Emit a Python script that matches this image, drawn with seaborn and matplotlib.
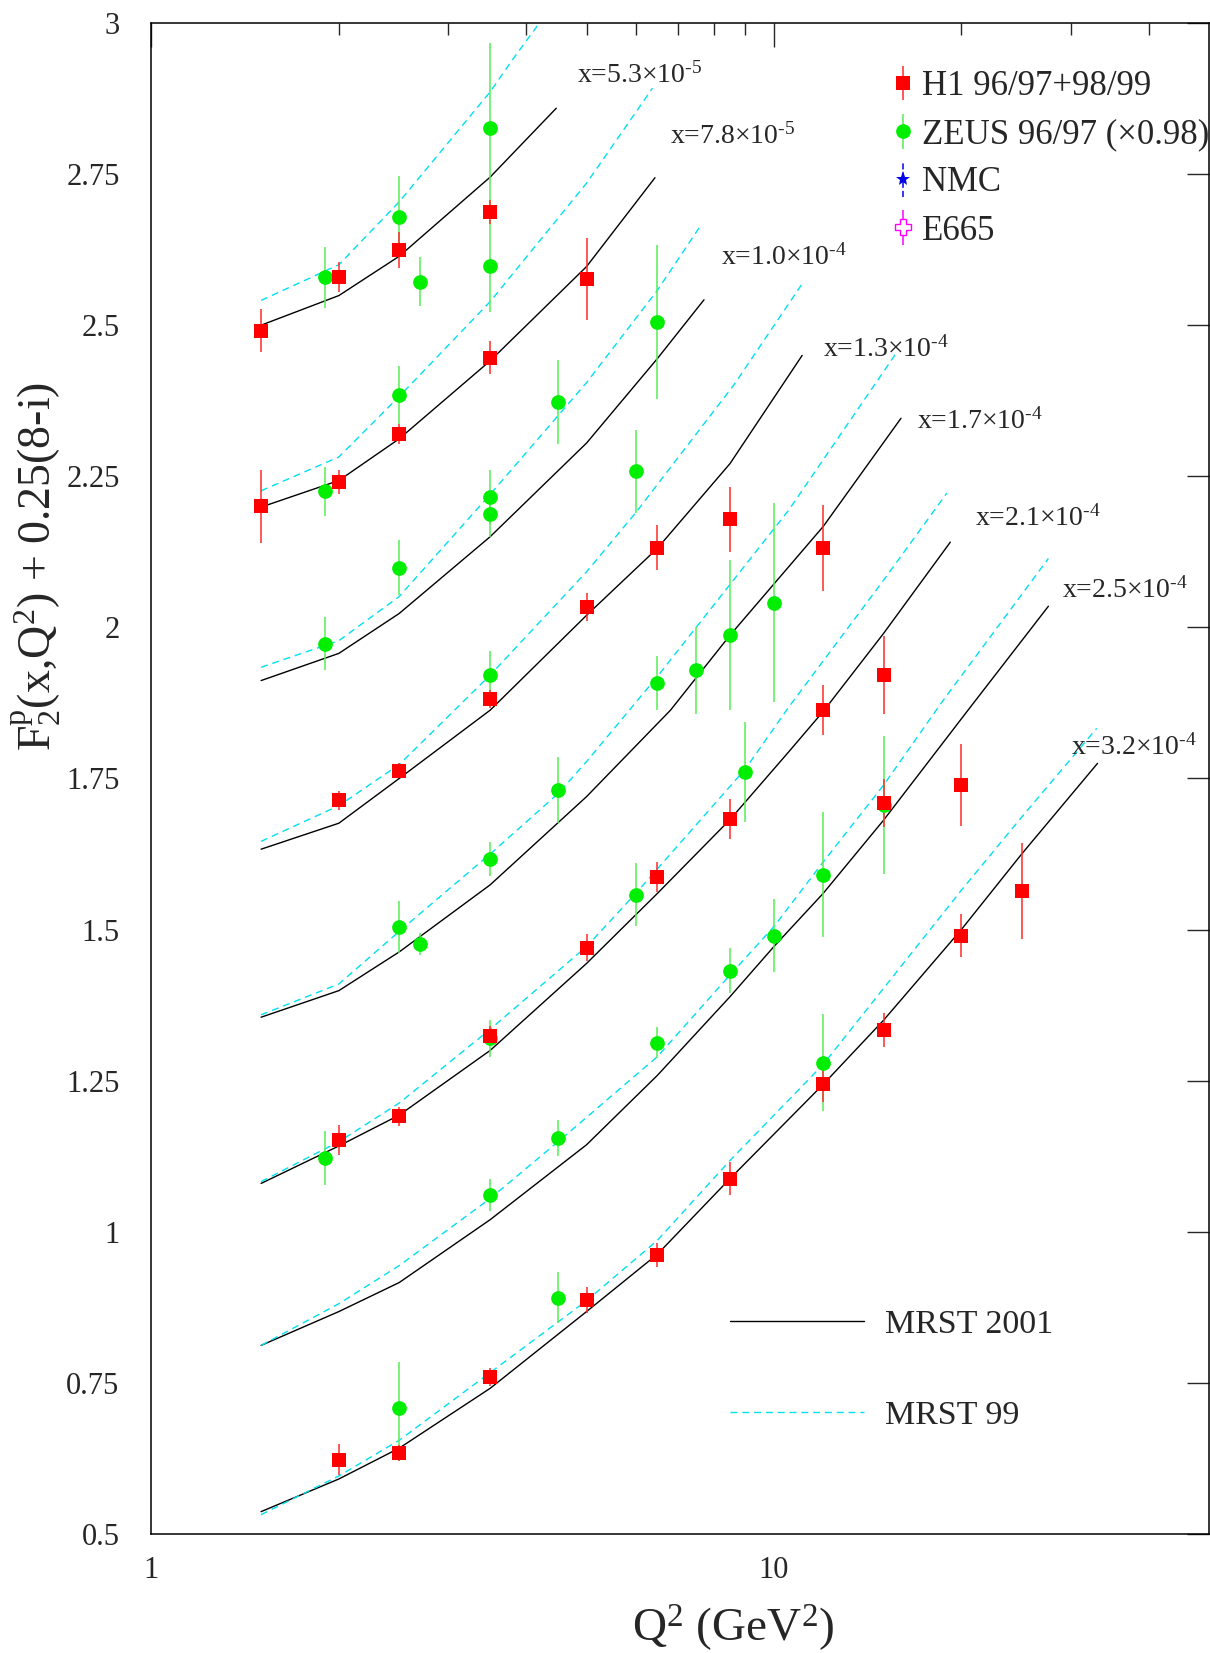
import numpy as np
import pandas as pd
import matplotlib
matplotlib.use("Agg")
import matplotlib.pyplot as plt
import seaborn as sns
from matplotlib.ticker import FixedLocator, NullFormatter, FuncFormatter
from matplotlib.lines import Line2D

sns.set_style("white")
plt.rcParams["font.family"] = ["Liberation Serif", "DejaVu Serif"]
plt.rcParams["mathtext.fontset"] = "custom"
plt.rcParams["mathtext.rm"] = "Liberation Serif"
plt.rcParams["mathtext.it"] = "Liberation Serif:italic"
plt.rcParams["mathtext.bf"] = "Liberation Serif:bold"

# ---------------- data ----------------
h1_q2 = [1.5, 1.5, 2, 2, 2, 2, 2, 2.5, 2.5, 2.5, 2.5, 2.5, 3.5, 3.5, 3.5, 3.5, 3.5,
         5, 5, 5, 5, 6.5, 6.5, 6.5, 8.5, 8.5, 8.5, 12, 12, 12, 15, 15, 15, 20, 20, 25]
h1_f2 = [2.491, 2.200, 2.580, 2.241, 1.714, 1.152, 0.623, 2.624, 2.320, 1.763, 1.191, 0.634,
         2.687, 2.446, 1.882, 1.324, 0.760, 2.577, 2.034, 1.470, 0.887, 2.132, 1.587, 0.962,
         2.179, 1.683, 1.088, 2.132, 1.863, 1.244, 1.921, 1.709, 1.334, 1.739, 1.490, 1.564]
h1_err = [0.035, 0.06, 0.025, 0.02, 0.016, 0.025, 0.026, 0.03, 0.017, 0.013, 0.016, 0.014,
          0.02, 0.027, 0.015, 0.016, 0.015, 0.068, 0.023, 0.022, 0.022, 0.037, 0.025, 0.02,
          0.054, 0.033, 0.027, 0.071, 0.041, 0.03, 0.064, 0.04, 0.028, 0.068, 0.036, 0.08]

zeus_q2 = [1.9, 1.9, 1.9, 1.9, 2.5, 2.5, 2.5, 2.5, 2.5, 2.7, 2.7,
           3.5, 3.5, 3.5, 3.5, 3.5, 3.5, 3.5, 3.5, 4.5, 4.5, 4.5, 4.5, 6, 6,
           6.5, 6.5, 6.5, 7.5, 8.5, 8.5, 9, 10, 10, 12, 12, 15]
zeus_f2 = [2.579, 2.225, 1.973, 1.122, 2.679, 2.384, 2.099, 1.504, 0.708, 2.572, 1.476,
           2.827, 2.598, 2.216, 2.188, 1.921, 1.617, 1.320, 1.061, 2.373, 1.731, 1.155, 0.891,
           2.258, 1.558, 2.505, 1.908, 1.313, 1.929, 1.988, 1.432, 1.761, 2.041, 1.490,
           1.591, 1.280, 1.706]
zeus_err = [0.051, 0.04, 0.044, 0.045, 0.068, 0.048, 0.045, 0.043, 0.076, 0.041, 0.018,
            0.14, 0.076, 0.045, 0.038, 0.04, 0.028, 0.03, 0.027, 0.069, 0.054, 0.03, 0.042,
            0.068, 0.052, 0.127, 0.044, 0.026, 0.072, 0.124, 0.037, 0.083, 0.165, 0.061,
            0.104, 0.08, 0.114]

# theory curves (Q2, F2 + 0.25(8-i)) for each x bin
mrst01_bin1 = [(1.5, 2.500), (2, 2.549), (2.5, 2.614), (3.5, 2.745), (4.47, 2.859)]
mrst01_bin2 = [(1.5, 2.199), (2, 2.243), (2.5, 2.312), (3.5, 2.441), (5, 2.597), (6.44, 2.744)]
mrst01_bin3 = [(1.5, 1.912), (2, 1.957), (2.5, 2.023), (3.5, 2.150), (5, 2.305), (6.5, 2.445),
               (7.72, 2.542)]
mrst01_bin4 = [(1.5, 1.633), (2, 1.676), (2.5, 1.750), (3.5, 1.863), (5, 2.020), (6.5, 2.131),
               (8.5, 2.271), (11.1, 2.450)]
mrst01_bin5 = [(1.5, 1.355), (2, 1.399), (2.5, 1.463), (3.5, 1.574), (5, 1.720), (6.82, 1.863),
               (8.5, 1.987), (12, 2.167), (16.0, 2.346)]
mrst01_bin6 = [(1.5, 1.080), (2, 1.142), (2.5, 1.193), (3.5, 1.300), (5, 1.444), (6.5, 1.560),
               (8.5, 1.682), (10.56, 1.794), (12, 1.861), (15, 1.990), (19.2, 2.141)]
mrst01_bin7 = [(1.5, 0.812), (2, 0.868), (2.5, 0.916), (3.5, 1.020), (5, 1.144), (6.5, 1.259),
               (8.5, 1.389), (10, 1.472), (12, 1.560), (15, 1.681), (20.5, 1.863), (27.6, 2.035)]
mrst01_bin8 = [(1.5, 0.537), (2, 0.591), (2.5, 0.642), (3.5, 0.741), (5, 0.868), (6.5, 0.963),
               (8.5, 1.088), (12, 1.244), (15, 1.350), (20, 1.500), (25, 1.625), (33.1, 1.775)]

mrst99_bin1 = [(1.5, 2.541), (2, 2.600), (2.5, 2.704), (3.5, 2.886), (3.8, 2.939), (4.2, 3.0)]
mrst99_bin2 = [(1.5, 2.226), (2, 2.282), (2.5, 2.382), (3.5, 2.539), (5, 2.735), (6.38, 2.892)]
mrst99_bin3 = [(1.5, 1.934), (2, 1.978), (2.5, 2.051), (3.5, 2.220), (5, 2.405), (6.5, 2.558),
               (7.65, 2.667)]
mrst99_bin4 = [(1.5, 1.646), (2, 1.705), (2.5, 1.773), (3.5, 1.921), (5, 2.092), (6, 2.190),
               (8.62, 2.401), (11.16, 2.572)]
mrst99_bin5 = [(1.5, 1.359), (2, 1.410), (2.5, 1.497), (3.5, 1.625), (4.5, 1.725), (5, 1.778),
               (6.5, 1.919), (10.56, 2.194), (15.7, 2.453)]
mrst99_bin6 = [(1.5, 1.083), (2, 1.149), (2.5, 1.213), (3.5, 1.335), (5, 1.472), (6, 1.560),
               (9, 1.766), (10.56, 1.868), (15, 2.078), (18.95, 2.222)]
mrst99_bin7 = [(1.5, 0.812), (2, 0.881), (2.5, 0.944), (3.5, 1.055), (4.5, 1.149), (6.5, 1.290),
               (8.5, 1.425), (10, 1.505), (12, 1.612), (15, 1.739), (18.6, 1.876), (27.6, 2.114)]
mrst99_bin8 = [(1.5, 0.532), (2, 0.596), (2.5, 0.655), (3.5, 0.767), (5, 0.886), (6.5, 0.986),
               (8.5, 1.118), (12, 1.277), (20, 1.565), (25, 1.686), (33.0, 1.833)]

bin_mantissa = ["5.3", "7.8", "1.0", "1.3", "1.7", "2.1", "2.5", "3.2"]
bin_exponent = ["-5", "-5", "-4", "-4", "-4", "-4", "-4", "-4"]
# anchor (left, baseline) of each bin label in data coords
label_anchor = [(4.82, 2.901), (6.81, 2.800), (8.21, 2.600), (11.99, 2.448),
                (17.0, 2.329), (21.0, 2.169), (29.0, 2.050), (30.0, 1.790)]

legend_data = ["H1 96/97+98/99", "ZEUS 96/97 (\u00d70.98)", "NMC", "E665"]
legend_theory = ["MRST 2001", "MRST 99"]

# ---------------- styling ----------------
RED = "#ff0000"
RED_BAR = "#ff2a2a"
GREEN = "#00ee00"
GREEN_BAR = "#55ee55"
CYAN = "#00e0f0"

rows = []
for model, bins in (("MRST 2001", [mrst01_bin1, mrst01_bin2, mrst01_bin3, mrst01_bin4,
                                  mrst01_bin5, mrst01_bin6, mrst01_bin7, mrst01_bin8]),
                    ("MRST 99", [mrst99_bin1, mrst99_bin2, mrst99_bin3, mrst99_bin4,
                                mrst99_bin5, mrst99_bin6, mrst99_bin7, mrst99_bin8])):
    for i, pts in enumerate(bins):
        for q2, f2 in pts:
            rows.append((model, i + 1, q2, f2))
curves = pd.DataFrame(rows, columns=["model", "bin", "Q2", "F2"])

fig = plt.figure(figsize=(12.1, 16.53), dpi=100)
ax = fig.add_axes([0.1252, 0.0720, 0.8740, 0.9141])
ax.set_xscale("log")
ax.set_xlim(1, 50)
ax.set_ylim(0.5, 3)

sns.lineplot(data=curves[curves.model == "MRST 2001"], x="Q2", y="F2", units="bin",
             estimator=None, color="black", lw=1.0, legend=False, ax=ax, zorder=2)
sns.lineplot(data=curves[curves.model == "MRST 99"], x="Q2", y="F2", units="bin",
             estimator=None, color=CYAN, lw=1.0, linestyle=(0, (5, 3.5)),
             legend=False, ax=ax, zorder=2)

ax.errorbar(zeus_q2, zeus_f2, yerr=zeus_err, fmt="none", ecolor=GREEN_BAR,
            elinewidth=1.1, capsize=0, zorder=3)
ax.errorbar(h1_q2, h1_f2, yerr=h1_err, fmt="none", ecolor=RED_BAR,
            elinewidth=1.1, capsize=0, zorder=3)
sns.scatterplot(x=zeus_q2, y=zeus_f2, marker="o", s=112, color=GREEN, linewidth=0,
                ax=ax, zorder=4, legend=False)
sns.scatterplot(x=h1_q2, y=h1_f2, marker="s", s=112, color=RED, linewidth=0,
                ax=ax, zorder=4, legend=False)

for m, e, (qx, fy) in zip(bin_mantissa, bin_exponent, label_anchor):
    sup = e.replace("-", "\u2010")
    ax.text(qx, fy, "x=" + m + "\u00d710$^{\\mathregular{" + sup + "}}$", fontsize=20,
            ha="left", va="baseline")

# axes / ticks
ax.xaxis.set_major_locator(FixedLocator([1, 10]))
ax.xaxis.set_minor_locator(FixedLocator([2, 3, 4, 5, 6, 7, 8, 9, 20, 30, 40]))
ax.xaxis.set_major_formatter(FuncFormatter(lambda v, p: f"{v:g}"))
ax.xaxis.set_minor_formatter(NullFormatter())
ax.yaxis.set_major_locator(FixedLocator(np.arange(0.5, 3.01, 0.25)))
ax.yaxis.set_major_formatter(FuncFormatter(lambda v, p: f"{v:g}"))
ax.tick_params(axis="x", which="major", direction="in", length=17.3, width=1.0,
               top=True, labelsize=22, pad=16)
ax.tick_params(axis="x", which="minor", direction="in", length=8.6, width=1.0, top=True)
ax.tick_params(axis="y", which="major", direction="in", length=15.8, width=1.0,
               right=True, labelsize=22, pad=23)
for s in ax.spines.values():
    s.set_linewidth(1.1)
    s.set_color("black")

ax.set_ylabel("F$^{\\mathregular{p}}_{\\mathregular{2}}$(x,Q$^{\\mathregular{2}}$) + 0.25(8-i)",
              fontsize=33)
ax.yaxis.set_label_coords(-0.0835, 0.6406)
ax.set_xlabel("Q$^{\\mathregular{2}}$ (GeV$^{\\mathregular{2}}$)", fontsize=34)
ax.xaxis.set_label_coords(0.5504, -0.045)

# legends
h_h1 = ax.errorbar([np.nan], [np.nan], yerr=[0.1], fmt="s", color=RED, ecolor=RED_BAR,
                   ms=10.6, mew=0, elinewidth=1.1)
h_ze = ax.errorbar([np.nan], [np.nan], yerr=[0.1], fmt="o", color=GREEN, ecolor=GREEN_BAR,
                   ms=10.6, mew=0, elinewidth=1.1)
h_nm = ax.errorbar([np.nan], [np.nan], yerr=[0.1], fmt="*", color="#0000ee", ecolor="#0000ee",
                   ms=11, mew=0, elinewidth=1.1)
h_nm[2][0].set_linestyle((0, (4, 2)))
h_e6 = ax.errorbar([np.nan], [np.nan], yerr=[0.1], fmt="P", mfc="white", mec="#ff00ff",
                   ecolor="#ff00ff", ms=11, mew=1.0, elinewidth=1.1)
leg1 = ax.legend(handles=[h_h1, h_ze, h_nm, h_e6], labels=legend_data, loc="upper left",
                 bbox_to_anchor=(0.7005, 0.9687), frameon=False, fontsize=25,
                 handlelength=0.6, handletextpad=0.25, labelspacing=0.435,
                 borderpad=0, borderaxespad=0)
ax.add_artist(leg1)
l1 = Line2D([], [], color="black", lw=1.0)
l2 = Line2D([], [], color=CYAN, lw=1.0, linestyle=(0, (5, 3.5)))
ax.legend(handles=[l1, l2], labels=legend_theory, loc="upper left",
          bbox_to_anchor=(0.5475, 0.1486), frameon=False, fontsize=24.5,
          handlelength=3.93, handletextpad=0.6, labelspacing=1.76,
          borderpad=0, borderaxespad=0)

fig.savefig("out.png", dpi=100, facecolor="white")
